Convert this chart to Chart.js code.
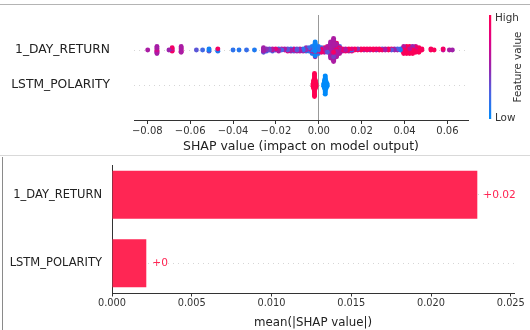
<!DOCTYPE html>
<html>
<head>
<meta charset="utf-8">
<script src="https://cdn.jsdelivr.net/npm/chart.js@4.4.1/dist/chart.umd.min.js"></script>
<style>
  body { margin: 0; background: #fff; width: 530px; height: 330px; overflow: hidden; position: relative; }
  #topLine { position: absolute; left: 0; top: 4px; width: 530px; height: 1px; background: #b4b4b4; }
  #midLine { position: absolute; left: 0; top: 155px; width: 530px; height: 1px; background: #d9d9d9; }
  #sideLine { position: absolute; left: 2px; top: 157px; width: 1px; height: 173px; background: #8a8a8a; }
  #top { position: absolute; left: 0; top: 0; }
  #bottom { position: absolute; left: 0; top: 158px; }
</style>
</head>
<body>
<div id="topLine"></div>
<div id="midLine"></div>
<div id="sideLine"></div>
<canvas id="top" width="530" height="155"></canvas>
<canvas id="bottom" width="530" height="172"></canvas>
<script>
// rows, bottom to top (y position = index)
const rowNames = ['LSTM_POLARITY', '1_DAY_RETURN'];

// beeswarm groups: [shap value, how many samples, feature value 0..1]
const dayReturnPoints = [
  [-0.0798, 1, 0.55],
  [-0.0755, 5, 0.54], [-0.0755, 2, 0.7],
  [-0.0699, 1, 0.5],
  [-0.0684, 3, 0.9], [-0.0684, 1, 0.58],
  [-0.0642, 4, 0.55], [-0.0642, 2, 0.8],
  [-0.0571, 1, 0.3],
  [-0.0542, 1, 0.22],
  [-0.0512, 2, 0.06], [-0.0512, 1, 0.35],
  [-0.0471, 1, 0.92], [-0.0471, 2, 0.1],
  [-0.0400, 1, 0.15],
  [-0.0372, 1, 0.12],
  [-0.0337, 1, 0.18],
  [-0.0300, 1, 0.1],
  [-0.0258, 4, 0.52], [-0.0258, 1, 0.3],
  [-0.0244, 2, 0.45], [-0.0244, 1, 0.2],
  [-0.0230, 2, 0.35],
  [-0.0216, 2, 0.6], [-0.0216, 1, 0.25],
  [-0.0201, 1, 0.45], [-0.0201, 1, 0.8],
  [-0.0187, 2, 0.55], [-0.0187, 1, 0.15],
  [-0.0173, 1, 0.25], [-0.0173, 1, 0.65],
  [-0.0159, 2, 0.55],
  [-0.0145, 2, 0.3], [-0.0145, 1, 0.75],
  [-0.0130, 2, 0.5], [-0.0130, 1, 0.1],
  [-0.0116, 2, 0.7], [-0.0116, 1, 0.3],
  [-0.0102, 2, 0.3], [-0.0102, 1, 0.6],
  [-0.0088, 2, 0.55], [-0.0088, 1, 0.85],
  [-0.0073, 2, 0.15], [-0.0073, 1, 0.55],
  [-0.0059, 3, 0.45], [-0.0059, 1, 0.1],
  [-0.0045, 3, 0.2], [-0.0045, 1, 0.65],
  [-0.0031, 5, 0.1], [-0.0031, 2, 0.55],
  [-0.0017, 11, 0.04], [-0.0017, 2, 0.5], [-0.0017, 1, 0.9],
  [-0.0002, 4, 0.12], [-0.0002, 2, 0.8], [-0.0002, 1, 0.5],
  [0.0012, 3, 0.85], [0.0012, 2, 0.2],
  [0.0026, 3, 0.55], [0.0026, 2, 0.95],
  [0.0040, 4, 0.6], [0.0040, 2, 0.3],
  [0.0055, 11, 0.55], [0.0055, 2, 0.9], [0.0055, 2, 0.35],
  [0.0069, 16, 0.56], [0.0069, 3, 0.9], [0.0069, 2, 0.4],
  [0.0083, 9, 0.57], [0.0083, 2, 0.92], [0.0083, 2, 0.3],
  [0.0097, 4, 0.6], [0.0097, 2, 0.92], [0.0097, 1, 0.25],
  [0.0111, 2, 0.85], [0.0111, 1, 0.55],
  [0.0125, 2, 0.6], [0.0125, 1, 0.9],
  [0.0140, 2, 0.95], [0.0140, 1, 0.5],
  [0.0154, 2, 0.8], [0.0154, 1, 0.2],
  [0.0168, 2, 0.95],
  [0.0182, 1, 0.9], [0.0182, 1, 0.45],
  [0.0197, 2, 0.95],
  [0.0211, 1, 0.55], [0.0211, 1, 0.95],
  [0.0225, 2, 0.9],
  [0.0239, 1, 0.6], [0.0239, 1, 0.95],
  [0.0254, 2, 0.95],
  [0.0268, 1, 0.5], [0.0268, 1, 0.9],
  [0.0282, 2, 0.95],
  [0.0296, 1, 0.3], [0.0296, 1, 0.9],
  [0.0310, 2, 0.55],
  [0.0325, 2, 0.95],
  [0.0339, 1, 0.3], [0.0339, 1, 0.9],
  [0.0353, 2, 0.5],
  [0.0367, 1, 0.25], [0.0367, 1, 0.55],
  [0.0381, 2, 0.1],
  [0.0396, 5, 0.95], [0.0396, 2, 0.6],
  [0.0410, 6, 0.97], [0.0410, 1, 0.55],
  [0.0424, 5, 0.95], [0.0424, 2, 0.65],
  [0.0438, 6, 0.97], [0.0438, 1, 0.5],
  [0.0452, 4, 0.95], [0.0452, 2, 0.7],
  [0.0467, 4, 0.97], [0.0467, 1, 0.55],
  [0.0481, 2, 0.95],
  [0.0523, 2, 0.95],
  [0.0538, 1, 0.97],
  [0.0580, 1, 0.65], [0.0580, 1, 0.9],
  [0.0609, 1, 0.55],
  [0.0623, 1, 0.52]
];

const lstmPoints = [
  [-0.0027, 3, 1], [-0.0024, 8, 1], [-0.0020, 21, 1], [-0.0016, 8, 1], [-0.0013, 3, 1],
  [0.0023, 3, 0], [0.0027, 8, 0], [0.0030, 17, 0], [0.0034, 7, 0], [0.0039, 3, 0]
];

const shapTicks = [-0.08, -0.06, -0.04, -0.02, 0, 0.02, 0.04, 0.06];

// bar chart: mean(|SHAP|), same row order
const barValues = [0.00215, 0.0229];
const barTicks = [0, 0.005, 0.010, 0.015, 0.020, 0.025];

// shap's red_blue map (Lch path, darker in the middle)
const cmapStops = [[0, 0, 138, 250], [0.25, 75, 99, 227], [0.5, 156, 35, 172], [0.75, 224, 0, 134], [1, 255, 0, 82]];
const barRed = 'rgb(255, 38, 84)';

Chart.defaults.font.family = '"DejaVu Sans", sans-serif';

function featureColor(f) {
  for (let i = 1; i < cmapStops.length; i++) {
    const a = cmapStops[i - 1], b = cmapStops[i];
    if (f <= b[0]) {
      const t = (f - a[0]) / (b[0] - a[0]);
      const c = [1, 2, 3].map(k => Math.round(a[k] + (b[k] - a[k]) * t));
      return `rgb(${c[0]},${c[1]},${c[2]})`;
    }
  }
  return 'rgb(255,0,82)';
}

// same stacking as shap's beeswarm: 100 bins, layers alternate up / down
function swarm(vals) {
  const n = vals.length;
  const lo = Math.min(...vals), hi = Math.max(...vals);
  const quant = vals.map(v => Math.round(100 * (v - lo) / (hi - lo + 1e-8)));
  const order = vals.map((v, i) => i).sort((a, b) => quant[a] - quant[b] || ((a * 53) % n) - ((b * 53) % n));
  const ys = new Array(n).fill(0);
  let layer = 0, last = -1;
  order.forEach(i => {
    if (quant[i] !== last) layer = 0;
    ys[i] = Math.ceil(layer / 2) * ((layer % 2) * 2 - 1);
    layer++;
    last = quant[i];
  });
  const m = Math.max(...ys.map(y => y + 1));
  return ys.map(y => y * 0.9 * 0.4 / m);
}

const pts = [];
const cols = [];
[lstmPoints, dayReturnPoints].forEach((groups, row) => {
  const vals = [], feats = [];
  groups.forEach(([v, n, f]) => { for (let k = 0; k < n; k++) { vals.push(v); feats.push(f); } });
  const off = swarm(vals);
  const n = vals.length;
  for (let j = 0; j < n; j++) {
    const i = (j * 7919) % n; // mixed drawing order
    pts.push({ x: vals[i], y: row + off[i] });
    cols.push(featureColor(feats[i]));
  }
});

function shapLabel(v) {
  return (v < 0 ? '\u2212' : '') + Math.abs(v).toFixed(2);
}

// no automatic label padding, the boxes are sized by hand
function noPad(ax) {
  ax.paddingTop = 0;
  ax.paddingBottom = 0;
  ax.paddingLeft = 0;
  ax.paddingRight = 0;
}

const colorBar = {
  id: 'colorBar',
  afterDraw(chart) {
    const { ctx, chartArea: a } = chart;
    const x = a.right + 21, top = a.top, bot = a.bottom - 1;
    const g = ctx.createLinearGradient(0, bot, 0, top);
    cmapStops.forEach(s => g.addColorStop(s[0], `rgb(${s[1]},${s[2]},${s[3]})`));
    ctx.save();
    ctx.fillStyle = g;
    ctx.fillRect(x, top, 2.2, bot - top);
    ctx.fillStyle = '#333';
    ctx.font = '10.4px "DejaVu Sans"';
    ctx.textBaseline = 'middle';
    ctx.fillText('High', x + 6, top + 3);
    ctx.fillText('Low', x + 6, bot - 1);
    ctx.translate(x + 29, (top + bot) / 2);
    ctx.rotate(-Math.PI / 2);
    ctx.textAlign = 'center';
    ctx.fillText('Feature value', 0, 0);
    ctx.restore();
  }
};

new Chart(document.getElementById('top'), {
  type: 'scatter',
  data: {
    datasets: [{
      data: pts,
      pointBackgroundColor: cols,
      pointRadius: 2.45,
      pointHoverRadius: 2.45,
      pointBorderWidth: 0
    }]
  },
  options: {
    responsive: false,
    animation: false,
    layout: { padding: { top: 15, right: 62 } },
    plugins: { legend: { display: false }, tooltip: { enabled: false } },
    scales: {
      x: {
        type: 'linear',
        min: -0.0862,
        max: 0.0696,
        afterBuildTicks: ax => { ax.ticks = shapTicks.map(v => ({ value: v })); },
        afterFit: ax => { ax.height = 35; noPad(ax); },
        ticks: { callback: v => shapLabel(v), color: '#333', font: { size: 10 }, padding: 1, maxRotation: 0, autoSkip: false },
        grid: {
          color: c => (c.tick && Math.abs(c.tick.value) < 1e-9) ? '#999' : 'rgba(0,0,0,0)',
          tickColor: '#333',
          tickLength: 4
        },
        border: { color: '#333' },
        title: { display: true, text: 'SHAP value (impact on model output)', color: '#222', font: { size: 12.5 }, padding: { top: 2, bottom: 1 } }
      },
      y: {
        type: 'linear',
        min: -1,
        max: 2,
        afterBuildTicks: ax => { ax.ticks = rowNames.map((n, i) => ({ value: i })); },
        afterFit: ax => { ax.width = 134; noPad(ax); },
        ticks: { callback: v => rowNames[v], color: '#222', font: { size: 12.3 }, padding: 24 },
        grid: { color: '#ccc', lineWidth: 0.8, drawTicks: false },
        border: { display: false, dash: [1, 4] }
      }
    }
  },
  plugins: [colorBar]
});

function barLabel(v) {
  return (v >= 0 ? '+' : '') + v.toFixed(2).replace(/\.?0+$/, '');
}

const barText = {
  id: 'barText',
  afterDatasetsDraw(chart) {
    const { ctx } = chart;
    ctx.save();
    ctx.fillStyle = barRed;
    ctx.font = '10.6px "DejaVu Sans"';
    ctx.textBaseline = 'middle';
    chart.getDatasetMeta(0).data.forEach((bar, i) => {
      ctx.fillText(barLabel(barValues[i]), bar.x + 6, bar.y);
    });
    ctx.restore();
  }
};

new Chart(document.getElementById('bottom'), {
  type: 'bar',
  data: {
    datasets: [{
      data: barValues.map((v, i) => ({ x: v, y: i })),
      backgroundColor: barRed,
      barPercentage: 0.7,
      categoryPercentage: 1
    }]
  },
  options: {
    indexAxis: 'y',
    responsive: false,
    animation: false,
    layout: { padding: { top: 7, right: 16 } },
    plugins: { legend: { display: false }, tooltip: { enabled: false } },
    scales: {
      x: {
        type: 'linear',
        min: 0,
        max: 0.0252,
        afterBuildTicks: ax => { ax.ticks = barTicks.map(v => ({ value: v })); },
        afterFit: ax => { ax.height = 37; noPad(ax); },
        ticks: { callback: v => v.toFixed(3), color: '#333', font: { size: 9.8 }, padding: 1, maxRotation: 0, autoSkip: false },
        grid: { drawOnChartArea: false, tickColor: '#333', tickLength: 3.5 },
        border: { color: '#333' },
        title: { display: true, text: 'mean(|SHAP value|)', color: '#222', font: { size: 11.8 }, padding: { top: 1, bottom: 0 } }
      },
      y: {
        type: 'linear',
        min: -0.435,
        max: 1.435,
        offset: false,
        afterBuildTicks: ax => { ax.ticks = rowNames.map((n, i) => ({ value: i })); },
        afterFit: ax => { ax.width = 112; noPad(ax); },
        ticks: { callback: v => rowNames[v], color: '#222', font: { size: 11.5 }, padding: 10 },
        grid: { offset: false, color: '#ccc', lineWidth: 0.8, drawTicks: false },
        border: { color: '#333', dash: [1, 4] }
      }
    }
  },
  plugins: [barText]
});
</script>
</body>
</html>
